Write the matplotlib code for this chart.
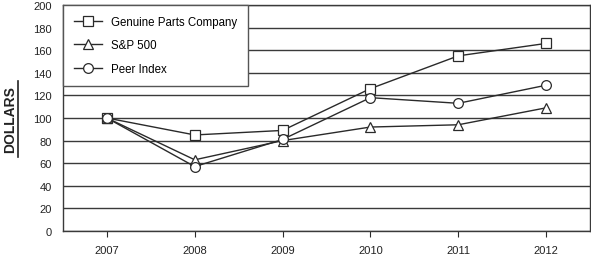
import matplotlib.pyplot as plt
from matplotlib.lines import Line2D

plt.rcParams['font.family'] = ['Liberation Sans', 'DejaVu Sans']

years = ['2007', '2008', '2009', '2010', '2011', '2012']
gpc = [100, 85, 89, 126, 155, 166]
sp500 = [100, 63, 80, 92, 94, 109]
peer = [100, 57, 81, 118, 113, 129]

fig = plt.figure(figsize=(5.91, 2.55), dpi=100)
ax = fig.add_axes([63 / 591, 23 / 255, 527 / 591, 226 / 255])

x = range(len(years))
ink = '#2a2a2a'
ax.plot(x, gpc, '-s', color=ink, lw=1, ms=6.5, mfc='white', mec=ink, mew=0.9,
        label='Genuine Parts Company', zorder=3)
ax.plot(x, sp500, '-^', color=ink, lw=1, ms=6.5, mfc='white', mec=ink, mew=0.9,
        label='S&P 500', zorder=3)
ax.plot(x, peer, '-o', color=ink, lw=1, ms=7, mfc='white', mec=ink, mew=0.9,
        label='Peer Index', zorder=3)

ax.set_xlim(-0.5, 5.5)
ax.set_ylim(0, 200)
ax.set_yticks(range(0, 201, 20))
ax.set_xticks(list(x))
ax.set_xticklabels(years)
ax.yaxis.grid(True, color='#3a3a3a', lw=1)
ax.set_axisbelow(True)
ax.tick_params(axis='y', length=0, labelsize=8, pad=8, labelcolor='#222222')
ax.tick_params(axis='x', length=4, direction='out', labelsize=8, pad=6,
               color=ink, labelcolor='#222222')
for s in ax.spines.values():
    s.set_color('#3a3a3a')
    s.set_linewidth(1)

leg = ax.legend(loc='upper left', bbox_to_anchor=(0, 1), borderaxespad=0,
                fontsize=8.3, frameon=True, fancybox=False, handlelength=2.4,
                labelspacing=1.0, borderpad=0.95, handletextpad=0.85)
leg.get_frame().set_edgecolor('#555555')
leg.get_frame().set_linewidth(1)
leg.get_frame().set_alpha(1)

fig.text(10 / 591, 1 - 120 / 255, 'DOLLARS', rotation=90, fontsize=10,
         fontweight='bold', ha='center', va='center', color='#222222')
fig.add_artist(Line2D([18 / 591, 18 / 591], [1 - 158 / 255, 1 - 82 / 255],
                      color='#222222', lw=1.2, transform=fig.transFigure))

fig.savefig('out.png', dpi=100)
